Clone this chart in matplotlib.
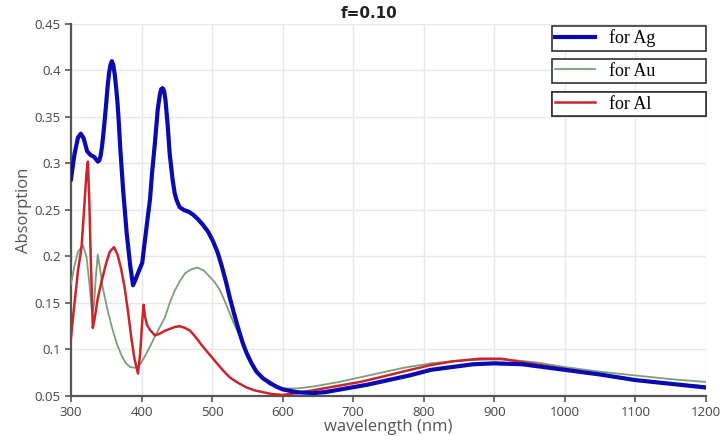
import matplotlib.pyplot as plt
import numpy as np

# ── Data ──────────────────────────────────────────────────────────────────────
ag_wl = [300, 305, 310, 314, 318, 323, 328, 333, 338, 340, 342, 344, 346, 348,
         350, 352, 354, 356, 358, 360, 362, 364, 366, 368, 370, 374, 379, 384,
         388, 392, 395, 401, 404, 409, 412, 415, 419, 423, 426, 428, 430, 432,
         434, 437, 440, 444, 447, 450, 454, 460, 467, 473, 480, 487, 494, 501,
         508, 514, 520, 525, 531, 537, 543, 549, 556, 563, 572, 582, 591, 600,
         620, 643, 660, 690, 720, 750, 780, 810, 840, 870, 900, 940, 970, 1000,
         1050, 1100, 1150, 1200]
ag_abs = [0.283, 0.310, 0.328, 0.332, 0.327, 0.313, 0.309, 0.307, 0.302, 0.303,
          0.308, 0.318, 0.332, 0.348, 0.365, 0.383, 0.397, 0.406, 0.410, 0.406,
          0.396, 0.382, 0.365, 0.342, 0.315, 0.271, 0.225, 0.190, 0.169, 0.176,
          0.182, 0.193, 0.212, 0.243, 0.261, 0.290, 0.322, 0.358, 0.374, 0.380,
          0.381, 0.378, 0.368, 0.342, 0.310, 0.283, 0.268, 0.260, 0.253, 0.250,
          0.248, 0.245, 0.240, 0.234, 0.227, 0.217, 0.204, 0.189, 0.172, 0.156,
          0.139, 0.123, 0.108, 0.096, 0.085, 0.076, 0.069, 0.064, 0.060, 0.057,
          0.054, 0.053, 0.054, 0.058, 0.062, 0.067, 0.072, 0.078, 0.081, 0.084,
          0.085, 0.084, 0.081, 0.078, 0.073, 0.067, 0.063, 0.059]

au_wl = [300, 305, 310, 317, 322, 326, 330, 333, 335, 338, 341, 345, 351, 358,
         365, 372, 378, 384, 393, 399, 405, 412, 419, 426, 433, 440, 447, 454,
         462, 470, 479, 488, 497, 504, 511, 518, 525, 532, 540, 549, 556, 563,
         572, 582, 600, 620, 643, 680, 710, 740, 770, 810, 850, 890, 920, 960,
         1000, 1050, 1100, 1150, 1200]
au_abs = [0.170, 0.190, 0.205, 0.212, 0.200, 0.172, 0.138, 0.150, 0.175, 0.202,
          0.188, 0.167, 0.145, 0.124, 0.106, 0.093, 0.085, 0.081, 0.080, 0.085,
          0.093, 0.103, 0.114, 0.124, 0.134, 0.150, 0.163, 0.173, 0.182, 0.186,
          0.188, 0.185, 0.178, 0.172, 0.164, 0.152, 0.139, 0.126, 0.113, 0.095,
          0.084, 0.075, 0.068, 0.062, 0.058, 0.058, 0.060, 0.065, 0.070, 0.075,
          0.080, 0.085, 0.088, 0.089, 0.089, 0.086, 0.081, 0.076, 0.072, 0.068,
          0.065]

al_wl = [300, 303, 306, 310, 315, 319, 322, 324, 326, 328, 330, 331, 334, 338,
         344, 350, 355, 361, 366, 371, 376, 381, 386, 390, 395, 398, 401, 403,
         405, 408, 412, 419, 426, 433, 440, 447, 454, 462, 469, 477, 487, 497,
         507, 516, 525, 537, 549, 560, 572, 585, 600, 620, 643, 680, 710, 738,
         770, 809, 840, 880, 910, 950, 1000, 1050, 1100, 1150, 1200]
al_abs = [0.112, 0.135, 0.156, 0.185, 0.210, 0.255, 0.290, 0.302, 0.260, 0.200,
          0.150, 0.123, 0.135, 0.155, 0.175, 0.193, 0.205, 0.210, 0.202, 0.187,
          0.167, 0.140, 0.110, 0.090, 0.074, 0.095, 0.130, 0.148, 0.135, 0.126,
          0.121, 0.115, 0.117, 0.120, 0.122, 0.124, 0.125, 0.123, 0.120, 0.113,
          0.103, 0.094, 0.085, 0.077, 0.070, 0.064, 0.059, 0.056, 0.054, 0.052,
          0.051, 0.053, 0.056, 0.061, 0.065, 0.070, 0.076, 0.083, 0.087, 0.090,
          0.090, 0.085, 0.079, 0.073, 0.067, 0.063, 0.060]

x_ticks = list(range(300, 1201, 100))
y_ticks = [0.05, 0.10, 0.15, 0.20, 0.25, 0.30, 0.35, 0.40, 0.45]
y_labels = ["0.05", "0.1", "0.15", "0.2", "0.25", "0.3", "0.35", "0.4", "0.45"]

# ── Figure ────────────────────────────────────────────────────────────────────
fig, ax = plt.subplots(figsize=(7.24, 4.36), dpi=100)
fig.subplots_adjust(left=0.098, right=0.975, top=0.945, bottom=0.092)

l_au, = ax.plot(au_wl, au_abs, color="#7d9d7d", linewidth=1.3, zorder=3)
l_al, = ax.plot(al_wl, al_abs, color="#c8262b", linewidth=1.8, zorder=4)
l_ag, = ax.plot(ag_wl, ag_abs, color="#0a0ab0", linewidth=3.0, zorder=5,
                solid_joinstyle="round")

ax.set_xlim(300, 1200)
ax.set_ylim(0.05, 0.45)
ax.set_xticks(x_ticks)
ax.set_yticks(y_ticks)
ax.set_yticklabels(y_labels)

ax.grid(True, color="#e8e8e8", linewidth=1.0)
ax.set_axisbelow(True)
for side in ("top", "right"):
    ax.spines[side].set_visible(False)
for side in ("left", "bottom"):
    ax.spines[side].set_color("#555555")
    ax.spines[side].set_linewidth(1.6)

ax.tick_params(axis="both", colors="#555555", labelcolor="#444444",
               labelsize=9.5, length=4, width=1.2, direction="out")
for lab in ax.get_xticklabels() + ax.get_yticklabels():
    lab.set_family("Open Sans")

ax.set_xlabel("wavelength (nm)", fontsize=12, color="#555555",
              family="Open Sans", labelpad=0)
ax.set_ylabel("Absorption", fontsize=12, color="#555555",
              family="Open Sans", labelpad=2)
ax.set_title("f=0.10", fontsize=11, fontweight="bold", family="DejaVu Sans",
             color="#222222", x=0.47, pad=4)

# ── Three separate legend boxes ───────────────────────────────────────────────
tops = [0.995, 0.906, 0.817]
for line, text, top in zip([l_ag, l_au, l_al], ["for Ag", "for Au", "for Al"], tops):
    leg = ax.legend([line], [text], loc="upper left",
                    bbox_to_anchor=(0.757, top, 0.243, 0.0), mode="expand",
                    fancybox=False, framealpha=1, edgecolor="#333333",
                    prop={"family": "Liberation Serif", "size": 13},
                    handlelength=2.2, handletextpad=0.8, borderpad=0.2,
                    borderaxespad=0)
    leg.get_frame().set_linewidth(1.2)
    leg.set_zorder(10)
    ax.add_artist(leg)

fig.savefig("out.png", dpi=100)
